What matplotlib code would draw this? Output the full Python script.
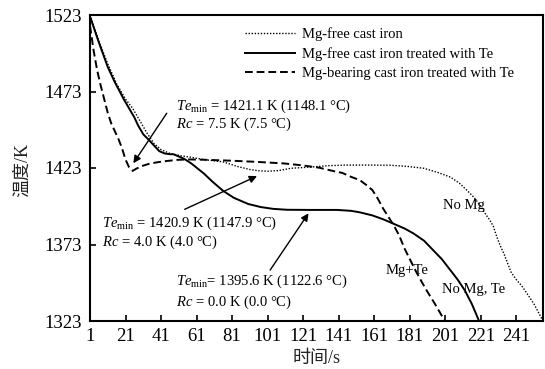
import matplotlib
matplotlib.use("Agg")
import matplotlib.pyplot as plt

plt.rcParams['font.family'] = ['Liberation Serif', 'Noto Sans CJK SC']
plt.rcParams['mathtext.fontset'] = 'custom'
plt.rcParams['mathtext.rm'] = 'Liberation Serif'
plt.rcParams['mathtext.it'] = 'Liberation Serif:italic'

# ---- data ----
t_nomg = [1, 6, 11, 16, 21, 25, 29, 33, 37, 41, 46, 52, 58, 65, 76, 84, 91, 96, 101,
          107, 114, 125, 135, 145, 160, 170, 180, 189, 197, 204, 209, 213, 217, 221,
          223, 226, 228, 230, 232, 234, 236, 238, 241, 244, 247, 251, 256]
T_nomg = [1523, 1506, 1491, 1478, 1468, 1462, 1454, 1446, 1439, 1435, 1432.5, 1431,
          1430, 1428.5, 1427, 1424, 1422, 1421.2, 1420.9, 1421.3, 1422.8, 1423.6,
          1424.5, 1424.9, 1424.9, 1424.8, 1424, 1422.8, 1420, 1417, 1413, 1408.6,
          1404, 1398, 1394, 1389, 1385, 1378, 1372, 1367, 1361, 1355, 1350, 1346,
          1341, 1334, 1323]

t_te = [1, 6, 11, 15, 20, 23, 26, 28, 31, 34, 36, 38, 40, 43, 46, 48, 51, 54, 58, 65,
        70, 76, 82, 90, 97, 104, 112, 125, 140, 148, 153, 160, 166, 172, 178, 183,
        189, 194, 199, 204, 208, 212, 216, 220]
T_te = [1522, 1505, 1489, 1479, 1468, 1462, 1456, 1451, 1445, 1441.5, 1439, 1436.5,
        1434, 1432.5, 1432, 1432, 1430.5, 1429, 1426, 1419.5, 1414, 1408, 1403.5,
        1399.5, 1397.5, 1396.3, 1395.7, 1395.6, 1395.6, 1395, 1394, 1392, 1389.5,
        1386.5, 1383.5, 1380.3, 1375.5, 1369.5, 1363.5, 1356, 1350, 1343, 1334, 1323]

t_mgte = [1, 3, 5, 7, 9, 11, 13, 15, 17, 19, 21, 23, 25, 27, 30, 35, 42, 50, 56, 65,
          80, 95, 110, 120, 130, 138, 143, 148, 153, 157, 160, 163, 166, 169, 172,
          175, 178, 181, 184, 188, 191, 195, 199, 200.5]
T_mgte = [1516, 1500, 1487, 1477, 1468, 1459, 1452, 1447, 1442, 1436, 1428.5, 1423.5,
          1421.1, 1422.5, 1424.2, 1426, 1427.3, 1428.3, 1428.6, 1428.4, 1427.8, 1427,
          1426, 1424.8, 1423.2, 1421, 1419.8, 1417.2, 1415, 1411.5, 1408.5, 1403,
          1396.5, 1391, 1385.5, 1379, 1370.5, 1363.5, 1356.5, 1348, 1342, 1334.5,
          1326.5, 1323]

x_ticks = [1, 21, 41, 61, 81, 101, 121, 141, 161, 181, 201, 221, 241]
y_ticks = [1323, 1373, 1423, 1473, 1523]

legend_labels = ["Mg-free cast iron",
                 "Mg-free cast iron treated with Te",
                 "Mg-bearing cast iron treated with Te"]

# ---- figure ----
fig = plt.figure(figsize=(5.45, 3.69), dpi=100)
ax = fig.add_axes([90/545, 48/369, 453/545, 306/369])

l1, = ax.plot(t_nomg, T_nomg, color='black', lw=1.0, linestyle=(0, (1, 1.2)))
l2, = ax.plot(t_te, T_te, color='black', lw=1.4, linestyle='-')
l3, = ax.plot(t_mgte, T_mgte, color='black', lw=1.4, linestyle=(0, (4, 2)))

ax.set_xlim(1, 256)
ax.set_ylim(1323, 1523)
ax.set_xticks(x_ticks)
ax.set_yticks(y_ticks)
ax.tick_params(direction='in', length=4.5, width=1.2, labelsize=13.5,
               top=False, right=False)
ax.tick_params(axis='x', pad=5)
ax.tick_params(axis='y', pad=6)
for s in ax.spines.values():
    s.set_linewidth(1.5)

leg = ax.legend([l1, l2, l3], legend_labels, loc='upper left',
                bbox_to_anchor=(0.342, 0.96), frameon=False, fontsize=10.5,
                handlelength=3.4, handletextpad=0.5, labelspacing=0.4,
                borderpad=0, borderaxespad=0)

fs = 10.5
ax.text(49.2, 1463.5, r"$\mathit{Te}_{\mathrm{min}}$ = 1421.1 K (1148.1 °C)",
        fontsize=fs, ha='left', va='center')
ax.text(49.2, 1451.8, r"$\mathit{Rc}$ = 7.5 K (7.5 °C)",
        fontsize=fs, ha='left', va='center')
ax.text(8.0, 1387, r"$\mathit{Te}_{\mathrm{min}}$ = 1420.9 K (1147.9 °C)",
        fontsize=fs, ha='left', va='center')
ax.text(8.0, 1374.6, r"$\mathit{Rc}$ = 4.0 K (4.0 °C)",
        fontsize=fs, ha='left', va='center')
ax.text(49.2, 1348.7, r"$\mathit{Te}_{\mathrm{min}}$= 1395.6 K (1122.6 °C)",
        fontsize=fs, ha='left', va='center')
ax.text(49.2, 1335.5, r"$\mathit{Rc}$ = 0.0 K (0.0 °C)",
        fontsize=fs, ha='left', va='center')

arrow = dict(arrowstyle='-|>', lw=1.0, color='black', mutation_scale=11,
             shrinkA=0, shrinkB=0)
ax.annotate("", xy=(25.4, 1426.1), xytext=(44.2, 1458.8), arrowprops=arrow)
ax.annotate("", xy=(95.0, 1417.7), xytext=(54.3, 1396.0), arrowprops=arrow)
ax.annotate("", xy=(124.0, 1393.4), xytext=(102.4, 1356.3), arrowprops=arrow)

ax.text(211.3, 1398.8, "No Mg", fontsize=fs, ha='center', va='center')
ax.text(179.4, 1356.3, "Mg+Te", fontsize=fs, ha='center', va='center')
ax.text(217.0, 1343.3, "No Mg, Te", fontsize=fs, ha='center', va='center')

fig.text(23/545, 1 - 170/369, "温度/K", rotation=90, fontsize=13,
         ha='center', va='center', color='#222222')
fig.text(316.7/545, 1 - 359/369, "时间/s", fontsize=13,
         ha='center', va='center', color='#222222')

fig.savefig("out.png", dpi=100)
